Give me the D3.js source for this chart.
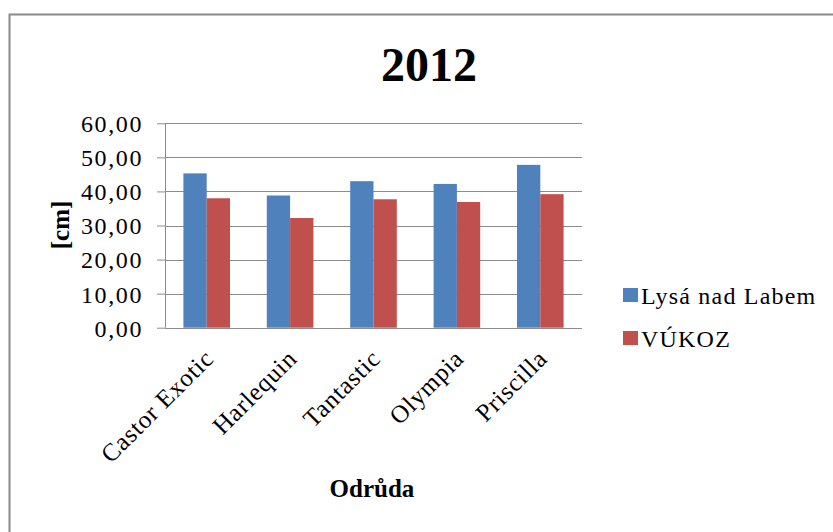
<!DOCTYPE html>
<html><head><meta charset="utf-8">
<script src="https://cdn.jsdelivr.net/npm/d3@7"></script>
<style>body{margin:0;background:#fff}svg{display:block}svg text{font-family:"Liberation Serif","Times New Roman",serif !important;fill:#000}</style>
</head><body><svg id="c" width="833" height="532"></svg>
<script>
const categories = ["Castor Exotic","Harlequin","Tantastic","Olympia","Priscilla"];
const seriesNames = ["Lysá nad Labem","VÚKOZ"];
const lysa = [45.3, 38.8, 43.0, 42.2, 47.8];
const vukoz = [38.0, 32.2, 37.7, 36.9, 39.2];
const yTicks = [0,10,20,30,40,50,60];
const colors = ["#4F81BD","#C0504D"];
const title = "2012", xTitle = "Odrůda", yTitle = "[cm]";

const svg = d3.select("#c");
svg.append("rect").attr("x",9.5).attr("y",14.5).attr("width",900).attr("height",600)
  .attr("fill","#fff").attr("stroke","#8a8a8a").attr("stroke-width",2);

const L=165, R=582, T=123.3, B=327.7;
const x0 = d3.scaleBand().domain(categories).range([L,R]).paddingInner(0).paddingOuter(0);
const x1 = d3.scaleBand().domain(seriesNames).range([0,x0.bandwidth()]).paddingInner(0).paddingOuter(0.79);
const y = d3.scaleLinear().domain([0,60]).range([B,T]);
const fmt = v => d3.format(".2f")(v).replace(".",",");

// gridlines
svg.append("g").selectAll("line").data(yTicks.filter(d=>d>0)).join("line")
  .attr("x1",L).attr("x2",R).attr("y1",d=>Math.round(y(d))+0.5).attr("y2",d=>Math.round(y(d))+0.5)
  .attr("stroke","#8c8c8c").attr("stroke-width",1);

// y axis
const ya = svg.append("g").attr("transform",`translate(${L},0)`)
  .call(d3.axisLeft(y).tickValues(yTicks).tickFormat(fmt).tickSize(8).tickPadding(14))
  .attr("font-family","Liberation Serif");
ya.select(".domain").attr("stroke","#8c8c8c").attr("d",`M0.5,${T}V${B}`);
ya.selectAll(".tick line").attr("stroke","#8c8c8c");
ya.selectAll(".tick text").style("font-size","24px").style("letter-spacing","1.6px").attr("fill","#000").attr("dy","0.35em");

// bars
const data = categories.map((c,i)=>({c, vals:[lysa[i],vukoz[i]]}));
const g = svg.append("g").selectAll("g").data(data).join("g").attr("transform",d=>`translate(${x0(d.c)},0)`);
g.selectAll("rect").data(d=>d.vals.map((v,j)=>({s:seriesNames[j],v,j}))).join("rect")
  .attr("x",d=>x1(d.s)).attr("width",x1.bandwidth()).attr("y",d=>y(d.v)).attr("height",d=>B-y(d.v))
  .attr("fill",d=>colors[d.j]);

// x axis line
svg.append("line").attr("x1",L).attr("x2",R).attr("y1",Math.round(B)+0.5).attr("y2",Math.round(B)+0.5)
  .attr("stroke","#8c8c8c");

// category labels
svg.append("g").selectAll("text").data(categories).join("text")
  .attr("transform",d=>`translate(${x0(d)+x0.bandwidth()/2-4},${B+20}) rotate(-45)`)
  .attr("text-anchor","end").attr("dy","0.7em").style("font-size","25px").style("letter-spacing","0.8px").text(d=>d);

// titles
svg.append("text").attr("x",429).attr("y",81).attr("text-anchor","middle")
  .style("font-size","48px").style("font-weight","bold").text(title);
svg.append("text").attr("transform",`translate(69,225) rotate(-90)`).attr("text-anchor","middle")
  .style("font-size","25px").style("font-weight","bold").text(yTitle);
svg.append("text").attr("x",372).attr("y",497).attr("text-anchor","middle")
  .style("font-size","25px").style("font-weight","bold").text(xTitle);

// legend
const lg = svg.append("g").selectAll("g").data(seriesNames).join("g")
  .attr("transform",(d,i)=>`translate(623,${288+i*43})`);
lg.append("rect").attr("width",15).attr("height",14).attr("fill",(d,i)=>colors[i]);
lg.append("text").attr("x",18).attr("y",16).style("font-size","24px").style("letter-spacing","1.2px").text(d=>d);
</script></body></html>
